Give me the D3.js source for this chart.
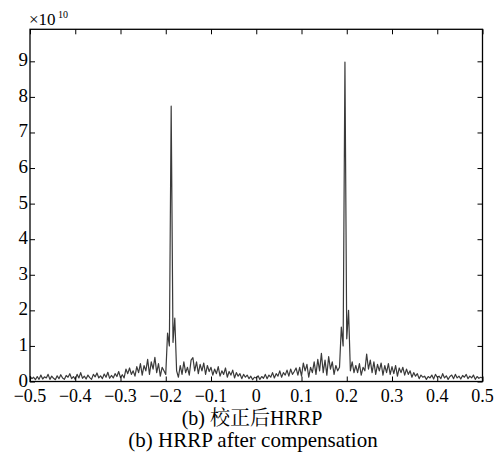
<!DOCTYPE html>
<html>
<head>
<meta charset="utf-8">
<script src="https://cdn.jsdelivr.net/npm/d3@7/dist/d3.min.js"></script>
<style>
  html, body { margin: 0; padding: 0; background: #fff; }
  svg { display: block; }
</style>
</head>
<body>
<svg id="chart" width="495" height="459"></svg>
<script>
// ---------------- data ----------------
// range cell positions: regular sampling from -0.5 with step 0.004 (251 samples)
const rangeStart = -0.5;
const rangeStep = 0.004;
// HRRP amplitude (x 10^10), one value per range cell
const amplitude = [
  0.15,0.08,0.12,0.05,0.14,0.06,0.18,0.07,0.13,0.10,
  0.20,0.06,0.15,0.09,0.05,0.16,0.08,0.19,0.10,0.06,
  0.17,0.12,0.22,0.08,0.14,0.06,0.20,0.10,0.25,0.09,
  0.15,0.07,0.18,0.11,0.06,0.20,0.13,0.24,0.10,0.16,
  0.08,0.21,0.12,0.26,0.09,0.17,0.10,0.22,0.14,0.28,
  0.11,0.19,0.10,0.35,0.22,0.38,0.20,0.30,0.15,0.42,
  0.25,0.50,0.18,0.45,0.30,0.62,0.20,0.55,0.35,0.68,
  0.25,0.50,0.15,0.40,0.30,0.20,1.36,1.00,7.74,1.10,
  1.78,0.30,0.12,0.45,0.20,0.55,0.25,0.40,0.18,0.60,
  0.67,0.30,0.55,0.22,0.48,0.30,0.52,0.20,0.45,0.28,
  0.40,0.18,0.35,0.22,0.42,0.15,0.30,0.20,0.38,0.12,
  0.28,0.18,0.32,0.10,0.25,0.15,0.22,0.08,0.20,0.12,
  0.18,0.08,0.15,0.05,0.12,0.10,0.16,0.06,0.14,0.09,
  0.20,0.08,0.18,0.12,0.25,0.10,0.22,0.15,0.30,0.12,
  0.25,0.18,0.32,0.15,0.35,0.20,0.28,0.38,0.18,0.40,
  0.15,0.52,0.30,0.48,0.12,0.40,0.25,0.55,0.20,0.62,
  0.30,0.79,0.25,0.60,0.18,0.70,0.35,0.55,0.20,0.45,
  0.30,0.40,1.53,1.00,8.98,1.20,2.00,0.30,0.55,0.25,
  0.45,0.25,0.50,0.18,0.40,0.30,0.77,0.35,0.60,0.25,
  0.55,0.20,0.48,0.30,0.52,0.18,0.45,0.25,0.50,0.20,
  0.42,0.22,0.45,0.15,0.38,0.25,0.40,0.18,0.35,0.20,
  0.30,0.12,0.25,0.15,0.22,0.08,0.18,0.12,0.15,0.06,
  0.14,0.10,0.18,0.07,0.20,0.12,0.15,0.08,0.22,0.10,
  0.16,0.06,0.14,0.18,0.08,0.20,0.10,0.15,0.07,0.17,
  0.12,0.20,0.08,0.15,0.10,0.18,0.06,0.14,0.09,0.12,
  0.10
];
const xTicks = [-0.5,-0.4,-0.3,-0.2,-0.1,0,0.1,0.2,0.3,0.4,0.5];
const yTicks = [0,1,2,3,4,5,6,7,8,9];
const captionCn = "(b) 校正后HRRP";
const captionEn = "(b) HRRP after compensation";

(function draw() {
  const SERIF = '"Liberation Serif"';
  const svg = d3.select("#chart");
  const mLeft = 30, mRight = 482.5, mTop = 29.3, mBottom = 381.5;
  const x = d3.scaleLinear().domain([-0.5, 0.5]).range([mLeft, mRight]);
  const y = d3.scaleLinear().domain([0, 9.9]).range([mBottom, mTop]);

  const points = amplitude.map((v, k) => [rangeStart + rangeStep * k, v]);

  svg.append("path")
    .datum(points)
    .attr("fill", "none")
    .attr("stroke", "#3a3a3a")
    .attr("stroke-width", 1.2)
    .attr("stroke-linejoin", "round")
    .attr("d", d3.line().x(d => x(d[0])).y(d => y(d[1])));

  const fmtX = v => (Math.abs(v) < 1e-9 ? "0" : (v < 0 ? "\u2212" : "") + Math.abs(v).toFixed(1));

  const gB = svg.append("g").attr("transform", `translate(0,${mBottom})`)
    .call(d3.axisBottom(x).tickValues(xTicks).tickSize(-5).tickSizeOuter(0).tickFormat(""));
  const gT = svg.append("g").attr("transform", `translate(0,${mTop})`)
    .call(d3.axisTop(x).tickValues(xTicks).tickSize(-5).tickSizeOuter(0).tickFormat(""));
  const gL = svg.append("g").attr("transform", `translate(${mLeft},0)`)
    .call(d3.axisLeft(y).tickValues(yTicks).tickSize(-5).tickSizeOuter(0).tickFormat(""));
  const gR = svg.append("g").attr("transform", `translate(${mRight},0)`)
    .call(d3.axisRight(y).tickValues(yTicks).tickSize(-5).tickSizeOuter(0).tickFormat(""));

  [gB, gT, gL, gR].forEach(g => {
    g.select(".domain").remove();
    g.selectAll(".tick line").attr("stroke", "#000").attr("stroke-width", 1);
    g.selectAll(".tick text").remove();
  });

  svg.append("rect")
    .attr("x", mLeft).attr("y", mTop)
    .attr("width", mRight - mLeft).attr("height", mBottom - mTop)
    .attr("fill", "none").attr("stroke", "#000").attr("stroke-width", 1.3);

  svg.append("g").selectAll("text").data(xTicks).join("text")
    .attr("x", d => x(d))
    .attr("y", 401.5)
    .attr("text-anchor", "middle")
    .style("font-family", SERIF)
    .attr("font-size", 18)
    .attr("fill", "#000")
    .text(fmtX);

  svg.append("g").selectAll("text").data(yTicks).join("text")
    .attr("x", mLeft - 2)
    .attr("y", d => y(d) + 5)
    .attr("text-anchor", "end")
    .style("font-family", SERIF)
    .attr("font-size", 19)
    .attr("fill", "#000")
    .text(d => d);

  svg.append("text").attr("x", mLeft - 1).attr("y", 24.5)
    .style("font-family", SERIF).attr("font-size", 17).text("\u00d710");
  svg.append("text").attr("x", mLeft + 28).attr("y", 17.5)
    .style("font-family", SERIF).attr("font-size", 10).text("10");

  svg.append("text").attr("x", 252).attr("y", 425).attr("text-anchor", "middle")
    .style("font-family", '"Liberation Serif", "Noto Serif CJK SC"').attr("font-size", 20).text(captionCn);
  svg.append("text").attr("x", 253).attr("y", 446.5).attr("text-anchor", "middle")
    .style("font-family", SERIF).attr("font-size", 21).text(captionEn);
})();
</script>
</body>
</html>
